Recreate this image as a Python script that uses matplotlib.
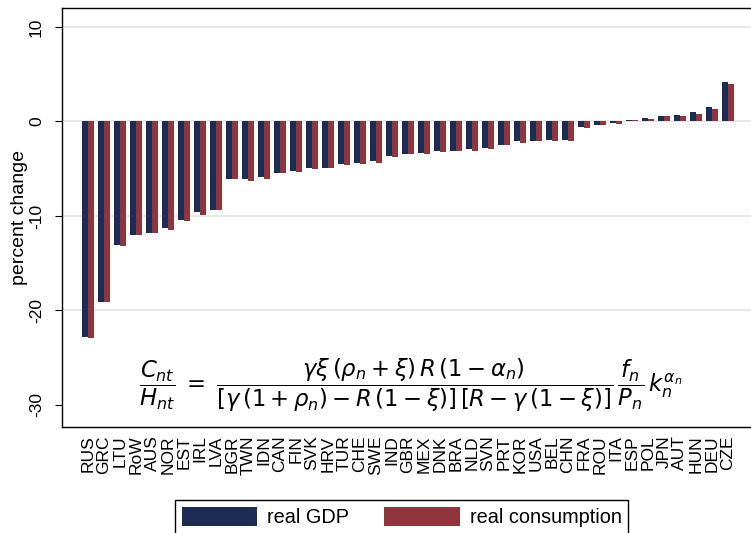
import numpy as np
import matplotlib
matplotlib.use("Agg")
import matplotlib.pyplot as plt
from matplotlib.patches import Patch

plt.rcParams['font.family'] = ['Liberation Sans', 'DejaVu Sans']
plt.rcParams['mathtext.fontset'] = 'dejavusans'

countries = ["RUS", "GRC", "LTU", "RoW", "AUS", "NOR", "EST", "IRL", "LVA", "BGR",
             "TWN", "IDN", "CAN", "FIN", "SVK", "HRV", "TUR", "CHE", "SWE", "IND",
             "GBR", "MEX", "DNK", "BRA", "NLD", "SVN", "PRT", "KOR", "USA", "BEL",
             "CHN", "FRA", "ROU", "ITA", "ESP", "POL", "JPN", "AUT", "HUN", "DEU",
             "CZE"]

real_gdp = [-22.8, -19.1, -13.05, -12.0, -11.8, -11.3, -10.4, -9.6, -9.4, -6.1,
            -6.05, -5.9, -5.5, -5.25, -4.9, -4.9, -4.5, -4.4, -4.2, -3.67,
            -3.46, -3.33, -3.14, -3.14, -2.96, -2.82, -2.5, -2.08, -2.08, -1.98,
            -1.98, -0.63, -0.39, -0.18, 0.1, 0.32, 0.53, 0.63, 0.95, 1.48,
            4.13]

real_consumption = [-22.9, -19.1, -13.2, -12.0, -11.8, -11.5, -10.5, -9.9, -9.4, -6.1,
                    -6.3, -6.07, -5.5, -5.35, -5.0, -4.9, -4.6, -4.5, -4.4, -3.78,
                    -3.46, -3.46, -3.28, -3.18, -3.14, -2.89, -2.5, -2.29, -2.08, -2.08,
                    -2.08, -0.7, -0.42, -0.28, 0.1, 0.25, 0.53, 0.53, 0.78, 1.3,
                    4.0]

y_ticks = [-30, -20, -10, 0, 10]
grid_levels = [-20, -10, 0, 10]

navy = "#1c2c54"
cranberry = "#90353b"

fig = plt.figure(figsize=(7.51, 5.33), dpi=100)
W, H = 751, 533
left, right, top, bottom = 62, 751, 8, 427
ax = fig.add_axes([left / W, 1 - bottom / H, (right - left) / W, (bottom - top) / H])

x = np.arange(len(countries))
bw = 0.375
for g in grid_levels:
    ax.axhline(g, color="#e2e2e2", lw=1.1, zorder=0)
ax.bar(x - bw / 2, real_gdp, width=bw, color=navy, zorder=2)
ax.bar(x + bw / 2, real_consumption, width=bw, color=cranberry, zorder=2)

ax.set_xlim(-1.625, 41.44)
ax.set_ylim(-32.33, 12.0)
ax.set_xticks(x)
ax.set_xticklabels(countries, rotation=90, va="top", ha="center", fontsize=12.5)
ax.tick_params(axis="x", length=0, pad=6)
ax.set_yticks(y_ticks)
ax.set_yticklabels([str(v) for v in y_ticks], rotation=90, va="center", fontsize=12.5)
ax.tick_params(axis="y", length=5, width=0.8, pad=8, direction="out")
ax.set_ylabel("percent change", fontsize=14, labelpad=1)

ax.spines["right"].set_visible(False)
for s in ("left", "top", "bottom"):
    ax.spines[s].set_linewidth(1.0)

formula = (r"$\dfrac{C_{nt}}{H_{nt}}\;=\;"
           r"\dfrac{\gamma\xi\,(\rho_n+\xi)\,R\,(1-\alpha_n)}"
           r"{[\gamma\,(1+\rho_n)-R\,(1-\xi)]\,[R-\gamma\,(1-\xi)]}\,"
           r"\dfrac{f_n}{P_n}\,k_n^{\alpha_n}$")
fig.text(411 / W, 1 - 385 / H, formula, ha="center", va="center", fontsize=16.4)

handles = [Patch(facecolor=navy, edgecolor="none"), Patch(facecolor=cranberry, edgecolor="none")]
fig.legend(handles, ["real GDP", "real consumption"], ncol=2, loc="upper left",
           bbox_to_anchor=(175 / W, 1 - 500 / H), fontsize=14.3, frameon=True,
           fancybox=False, edgecolor="black", framealpha=1,
           handlelength=3.8, handleheight=1.06, handletextpad=0.5,
           columnspacing=1.75, borderpad=0.35, borderaxespad=0)

fig.savefig("out.png", dpi=100)
